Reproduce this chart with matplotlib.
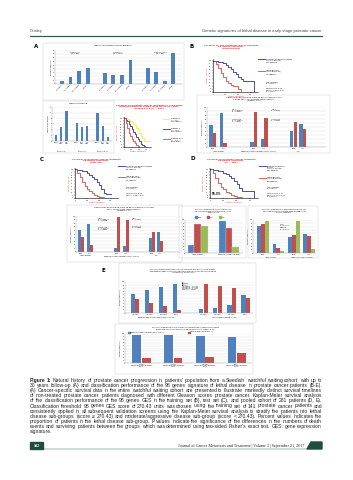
import numpy as np
import matplotlib
matplotlib.use('Agg')
import matplotlib.pyplot as plt
from matplotlib.patches import Rectangle, Polygon
from matplotlib.lines import Line2D

W, H = 353, 480
BLUE, RED, GREEN = '#4f81bd', '#c0504d', '#9bbb59'
KM_BLUE, KM_RED, KM_YEL = '#2e3192', '#e8403a', '#f5f032'
T_RED = '#e8262b'
DARK = '#1f4e3d'
TINY = 1.5

# ---------------- data ----------------
# A (top): deaths of prostate cancer patients by Gleason group
a_groups = ['Gleason 6\n(n = 85)', 'Gleason 7\n(n = 112)', 'Gleason 8-10\n(n = 84)']
a_periods = ['0-5 years', '5-10 years', '10-15 years', 'Overall']
a_deaths = [[8, 18, 35, 42], [28, 24, 24, 64], [42, 32, 8, 83]]

# A (bottom left): median follow-up
a_fu_labels = ['Deaths', '0-10\nyears', '>10\nyears']
a_fu = [[2.0, 5.0, 10.5], [6.2, 5.0, 5.2], [9.8, 5.4, 1.4]]

# A (bottom right): KM by Gleason
km_a = {
    'g6': ([0, 20, 40, 60, 80, 100, 120, 140, 160, 180, 200, 220, 240, 260, 380],
           [100, 99, 97, 95, 92, 88, 82, 76, 68, 60, 50, 40, 30, 20, 20]),
    'g7': ([0, 20, 40, 60, 80, 100, 120, 140, 160, 180, 200, 220, 240, 260, 280],
           [100, 96, 90, 82, 72, 62, 52, 44, 36, 28, 20, 12, 6, 2, 0]),
    'g8': ([0, 20, 40, 60, 80, 100, 120, 140, 160, 180, 200],
           [100, 84, 66, 50, 38, 28, 20, 14, 8, 4, 0]),
}

# B-D: KM curves, moderate/aggressive (blue) vs lethal (red)
km_b = {
    'mod': ([0, 20, 40, 60, 80, 100, 120, 140, 160, 180, 200, 220, 240, 280, 300, 330],
            [100, 99, 97, 95, 91, 86, 80, 72, 64, 56, 48, 40, 36, 36, 36, 0]),
    'let': ([0, 20, 40, 60, 80, 100, 120, 140, 160, 180, 200, 220],
            [100, 90, 76, 62, 48, 36, 28, 22, 20, 18, 8, 4]),
}
km_c = {
    'mod': ([0, 20, 40, 60, 80, 100, 120, 140, 160, 180, 200, 220, 240, 260, 300],
            [100, 99, 97, 96, 93, 88, 82, 75, 66, 56, 44, 30, 18, 15, 15]),
    'let': ([0, 20, 40, 60, 80, 100, 120, 140, 160, 180, 200, 240],
            [100, 88, 72, 56, 42, 32, 24, 18, 12, 8, 5, 5]),
}
km_d = {
    'mod': ([0, 20, 40, 60, 80, 100, 120, 140, 160, 180, 200, 220, 240, 260, 300, 330],
            [100, 99, 97, 95, 93, 89, 84, 78, 70, 60, 48, 36, 26, 24, 24, 0]),
    'let': ([0, 20, 40, 60, 80, 100, 120, 140, 160, 180, 200, 240],
            [100, 86, 70, 54, 40, 30, 22, 16, 10, 6, 4, 4]),
}

# B / C: classification performance (percent), blue = moderate, red = lethal
bc_labels = ['Dead', 'Alive', 'Dead', 'Alive', 'Dead', 'Alive']
bc_groups = ['Lethal disease', 'Moderate/aggressive disease (score < 270.43)', 'Total']
b_blue = [55, 84, 12, 20, 40, 57]
b_red = [36, 10, 87, 72, 62, 45]
c_blue = [60, 78, 10, 18, 38, 55]
c_red = [42, 20, 98, 88, 55, 30]

# D: training / test / pooled
d1_groups = ['Lethal disease', 'Moderate/aggressive disease']
d1_blue, d1_red, d1_green = [25, 97], [87, 75], [82, 17]
d2_labels = ['Dead', 'Alive', 'Dead', 'Alive']
d2_groups = ['Lethal disease', 'Moderate/aggressive disease']
d2_blue, d2_red, d2_green = [81, 26, 49, 58], [89, 16, 56, 53], [98, 7, 98, 11]

# E
e_years = ['10 years', '15 years', '20 years', 'Overall'] * 2
e_blue = [61, 75, 84, 95, 13, 16, 26, 58]
e_red = [44, 32, 21, 10, 92, 87, 81, 47]
e2_labels = ['5 years', '10 years', '15 years', 'Overall']
e2_blue = [95, 95, 92, 88]
e2_red = [16, 16, 19, 35]

caption = ("Figure 1: Natural history of prostate cancer progression in patients' population from a Swedish watchful waiting cohort with up to\n"
           "30 years follow-up (A) and classification performance of the 98 genes signature of lethal disease in prostate cancer patients (B-E).\n"
           "(A) Cancer-specific survival data in the entire watchful waiting cohort are presented to illustrate markedly distinct survival timelines\n"
           "of non-treated prostate cancer patients diagnosed with different Gleason scores prostate cancer. Kaplan-Meier survival analysis\n"
           "of the classification performance of the 98 genes GES in the training set (B), test set (C), and pooled cohort of 281 patients (D, E).\n"
           "Classification threshold 98 genes GES score of 270.43 units was chosen using the training set of 141 prostate cancer patients and\n"
           "consistently applied in all subsequent validation screens using the Kaplan-Meier survival analysis to stratify the patients into lethal\n"
           "disease sub-groups (score \u2265 270.43) and moderate/aggressive disease sub-group (score < 270.43). Percent values indicates the\n"
           "proportion of patients in the lethal disease sub-group. P values indicate the significance of the differences in the numbers of death\n"
           "events and surviving patients between the groups which was determined using two-sided Fisher's exact test. GES: gene expression\n"
           "signature.")

# ---------------- helpers ----------------
fig = plt.figure(figsize=(W / 100, H / 100), dpi=100)
fig.patch.set_facecolor('white')


def box(x0, y0, x1, y1):
    return [x0 / W, 1 - y1 / H, (x1 - x0) / W, (y1 - y0) / H]


def txt(x, y, s, **kw):
    kw.setdefault('fontsize', TINY)
    return fig.text(x / W, 1 - y / H, s, **kw)


def frame(x0, y0, x1, y1):
    fig.patches.append(Rectangle((x0 / W, 1 - y1 / H), (x1 - x0) / W, (y1 - y0) / H,
                                 transform=fig.transFigure, fill=False, ec='#c8c8c8', lw=0.3))


def bar_axes(rect, ylim, step, ylabel=None):
    ax = fig.add_axes(box(*rect))
    ax.set_ylim(*ylim)
    ax.set_yticks(np.arange(ylim[0], ylim[1] + 0.01, step))
    ax.tick_params(axis='both', labelsize=1.2, length=0, pad=0.4)
    ax.grid(axis='y', color='#d4d4d4', lw=0.25)
    ax.set_axisbelow(True)
    for s in ['top', 'right']:
        ax.spines[s].set_visible(False)
    for s in ['left', 'bottom']:
        ax.spines[s].set_color('#9a9a9a')
        ax.spines[s].set_linewidth(0.3)
    if ylabel:
        ax.set_ylabel(ylabel, fontsize=1.4, labelpad=0.6)
    return ax


def km_axes(rect, curves, colors):
    ax = fig.add_axes(box(*rect))
    for key, c in colors.items():
        t, s = curves[key]
        ax.step(t, s, where='post', color=c, lw=0.6)
    ax.set_xlim(0, 360)
    ax.set_ylim(0, 105)
    ax.set_xticks([0, 100, 200, 300])
    ax.set_yticks(range(0, 101, 10))
    ax.tick_params(labelsize=1.2, length=0.8, width=0.3, pad=0.4)
    for s in ['top', 'right']:
        ax.spines[s].set_visible(False)
    for s in ['left', 'bottom']:
        ax.spines[s].set_linewidth(0.4)
    ax.set_ylabel('Percent survival', fontsize=1.4, color=T_RED, labelpad=0.6)
    ax.set_xlabel('Time, months', fontsize=1.6, color=T_RED, labelpad=0.5)
    return ax


def km_legend(x, y, entries):
    for color, label, dy in entries:
        if color:
            fig.add_artist(Line2D([x / W, (x + 7) / W], [1 - (y + dy + 1) / H] * 2,
                                  color=color, lw=0.6, transform=fig.transFigure))
        txt(x + 8, y + dy, label, va='top', fontsize=1.3, linespacing=1.1)


def label(x, y, s):
    txt(x, y, s, fontsize=4, fontweight='bold', va='center', ha='center')


# ---------------- header ----------------
txt(30, 32, 'Grisley', fontsize=3, family='Liberation Sans', color='#444444', va='baseline')
txt(322, 32, 'Genetic signatures of lethal disease in early stage prostate cancer', fontsize=3,
    family='Liberation Sans', color='#444444', va='baseline', ha='right')
fig.add_artist(Line2D([30 / W, 322 / W], [1 - 35.8 / H] * 2, color='#3a5a55', lw=0.9,
                      transform=fig.transFigure))

# ---------------- panel A ----------------
label(36, 47, 'A')
frame(43, 43, 184, 100)
txt(113, 45.5, 'Death of prostate cancer patients', ha='center', va='center', fontsize=1.6)
ax = bar_axes((55, 50, 182, 84), (0, 90), 10, 'Percent patients')
pos, ticks = [], []
for g, (name, vals) in enumerate(zip(a_groups, a_deaths)):
    x = np.arange(4) + g * 5
    ax.bar(x, vals, width=0.45, color=BLUE)
    pos.extend(x)
    ticks.extend(a_periods)
    ax.text(x[1] + 0.5, 86, name, ha='center', va='top', fontsize=1.4, linespacing=1.0)
ax.set_xlim(-0.8, 14)
ax.set_xticks(pos)
ax.set_xticklabels(ticks, rotation=45, ha='right', rotation_mode='anchor')

frame(43, 101, 114, 153)
txt(78, 104, 'Median follow-up', ha='center', va='center', fontsize=1.5)
ax = bar_axes((52, 107, 112, 141), (0, 12), 2, 'Years of follow-up')
pos = []
for g, vals in enumerate(a_fu):
    x = np.arange(3) + g * 4
    ax.bar(x, vals, width=0.45, color=BLUE)
    pos.extend(x)
    ax.text(x[1], -3.6, ['Gleason 6', 'Gleason 7', 'Gleason 8-10'][g], ha='center', va='top',
            fontsize=1.2)
ax.set_xlim(-0.8, 10.8)
ax.set_xticks(pos)
ax.set_xticklabels(a_fu_labels * 3, fontsize=1.1, linespacing=1.0)

txt(149, 106.5, 'Survival of prostate cancer patients in a Swedish\nwatchful waiting cohort with up to 30 years\nof follow-up (n = 281)',
    ha='center', va='center', color=T_RED, fontsize=1.7, fontweight='bold', linespacing=1.05)
km_axes((124, 117, 151, 147), km_a, {'g6': KM_YEL, 'g7': KM_BLUE, 'g8': KM_RED})
km_legend(163, 118, [(KM_YEL, 'Gleason 6\n(n = 85)\n31% deaths', 0),
                     (KM_BLUE, 'Gleason 7\n(n = 112)\n55% deaths', 10),
                     (KM_RED, 'Gleason 8-10\n(n = 84)\n83% deaths', 20)])

# ---------------- panel B ----------------
label(192, 46, 'B')
txt(231, 47, 'Survival of 141 prostate cancer patients\n98 genes classifier\n(training set)',
    ha='center', va='center', color=T_RED, fontsize=1.7, fontweight='bold', linespacing=1.05)
km_axes((213, 59, 258, 92), km_b, {'mod': KM_BLUE, 'let': KM_RED})
km_legend(258, 58, [(KM_BLUE, 'Moderate/aggressive disease\n(score < 270.43)\n100 patients', 0),
                    (KM_RED, 'Lethal disease\n(score \u2265 270.43)\n41 patients', 12),
                    (None, 'Log-rank test\nP < 0.0001', 24),
                    (None, 'Hazard ratio: 3.93\n95% CI: 2.41 to 6.41\nP < 0.0001', 30)])

txt(254, 99, 'Classification performance of the 98 genes classifier in the\ntraining set of 141 prostate cancer patients\n(Gleason 6-10)',
    ha='center', va='center', fontsize=1.4, linespacing=1.05)
frame(197, 95, 330, 153)
bc_pos = [0, 1, 3.9, 4.9, 7.7, 8.6]


def bc_chart(rect, blue, red):
    ax = bar_axes(rect, (0, 100), 10, 'Percent patients')
    x = np.array(bc_pos)
    ax.bar(x - 0.17, blue, width=0.32, color=BLUE)
    ax.bar(x + 0.17, red, width=0.32, color=RED)
    ax.set_xlim(-0.55, 10.8)
    ax.set_xticks(x)
    ax.set_xticklabels(bc_labels, fontsize=1.1)
    for gx, gname in zip([0.5, 4.4, 8.15], bc_groups):
        ax.text(gx, -9, gname, ha='center', va='top', fontsize=1.1)
    return ax


ax = bc_chart((207, 107, 326, 147), b_blue, b_red)
ax.text(1.8, 96, 'Lethal\nP = 3.92E-08\nP = 0.0001', fontsize=1.2, va='top', linespacing=1.0)
ax.text(1.8, 70, 'All patients\nP = 1.44E-09\nP = 0.0007', fontsize=1.2, va='top', linespacing=1.0)
ax.text(5.6, 96, 'Lethal\nP = 0.0005', fontsize=1.2, va='top', linespacing=1.0)
ax.text(5.6, 70, 'All patients\nP = 0.0002', fontsize=1.2, va='top', linespacing=1.0)

# ---------------- panel C ----------------
label(42, 160, 'C')
txt(96, 161, 'Survival of prostate cancer patients\n98 genes classifier\n(test set)',
    ha='center', va='center', color=T_RED, fontsize=1.7, fontweight='bold', linespacing=1.05)
km_axes((75, 168, 118, 198), km_c, {'mod': KM_BLUE, 'let': KM_RED})
km_legend(118, 165, [(KM_BLUE, 'Moderate/aggressive disease\n(score < 270.43)\n95 patients', 0),
                     (KM_RED, 'Lethal disease\n(score \u2265 270.43)\n45 patients', 11),
                     (None, 'Log-rank test\nP < 0.0001', 22),
                     (None, 'Hazard ratio: 3.35\n95% CI: 2.09 to 5.37', 28)])
frame(67, 205, 182, 262)
txt(124, 209, 'Classification performance of the 98 genes classifier in the test\nset of 140 prostate cancer patients\n(Gleason 6-10)',
    ha='center', va='center', fontsize=1.4, linespacing=1.05)
ax = bc_chart((76, 216, 180, 252), c_blue, c_red)
ax.text(1.8, 96, 'Lethal\nP = 2.09E-06\nP = 0.0008', fontsize=1.2, va='top', linespacing=1.0)
ax.text(1.8, 70, 'All patients\nP = 1.04E-07\nP = 0.0002', fontsize=1.2, va='top', linespacing=1.0)
ax.text(5.6, 96, 'Lethal\nP = 0.0011', fontsize=1.2, va='top', linespacing=1.0)
ax.text(5.6, 72, 'All patients\nP = 0.0005', fontsize=1.2, va='top', linespacing=1.0)

# ---------------- panel D ----------------
label(193, 159, 'D')
txt(231, 161, 'Survival of prostate cancer patients\n98 genes classifier\n(n = 281)',
    ha='center', va='center', color=T_RED, fontsize=1.7, fontweight='bold', linespacing=1.05)
ax = km_axes((210, 168, 258, 198), km_d, {'mod': KM_BLUE, 'let': KM_RED})
ax.text(15, 12, '55.3%', fontsize=2, fontweight='bold')
km_legend(259, 165, [(KM_BLUE, 'Moderate/aggressive\ndisease\n(score < 270.43)\n195 patients', 0),
                     (KM_RED, 'Lethal disease\n(score \u2265 270.43)\n86 patients', 12),
                     (None, 'Log-rank test\nP < 0.0001', 22),
                     (None, 'Hazard ratio: 3.73\n95% CI: 2.71 to 5.14\nP < 0.0001', 28)])

frame(179, 206, 246, 258)
txt(213, 211, 'Proportion of patients with the lethal disease\nsignature among patients with death events\nand survivors',
    ha='center', va='center', fontsize=1.2, linespacing=1.05)
for i, (c, n) in enumerate([(BLUE, 'Dead'), (RED, 'Alive'), (GREEN, 'Total')]):
    fig.patches.append(Rectangle(((195 + i * 12) / W, 1 - 218 / H), 1.5 / W, 1.5 / H,
                                 transform=fig.transFigure, color=c))
    txt(197.5 + i * 12, 217.3, n, va='center', fontsize=1.1)
ax = bar_axes((185, 220, 243, 253), (0, 100), 10)
x = np.arange(2)
ax.bar(x - 0.21, d1_blue, width=0.21, color=BLUE, ec='#dddddd', lw=0.2)
ax.bar(x, d1_red, width=0.21, color=RED, ec='#dddddd', lw=0.2)
ax.bar(x + 0.21, d1_green, width=0.21, color=GREEN, ec='#dddddd', lw=0.2)
ax.set_xlim(-0.4, 1.44)
ax.set_xticks(x)
ax.set_xticklabels(d1_groups, fontsize=1.1)

frame(248, 206, 318, 258)
txt(284, 211, 'Proportion of patients with death events and survivors\namong patients with lethal and moderate/aggressive\ndisease signatures',
    ha='center', va='center', fontsize=1.2, linespacing=1.05)
ax = bar_axes((253, 220, 316, 253), (0, 100), 10, 'Percent patients')
x = np.arange(4)
ax.bar(x - 0.25, d2_blue, width=0.25, color=BLUE)
ax.bar(x, d2_red, width=0.25, color=RED)
ax.bar(x + 0.25, d2_green, width=0.25, color=GREEN)
ax.set_xlim(-0.65, 3.44)
ax.set_xticks(x)
ax.set_xticklabels(d2_labels, fontsize=1.1)
ax.text(1.1, 88, 'Lethal\nP < 0.0001\n\nModerate\nP < 0.0001', fontsize=1.1, va='top', linespacing=1.0)
for gx, gname in zip([0.5, 2.5], d2_groups):
    ax.text(gx, -10, gname, ha='center', va='top', fontsize=1.1)

# ---------------- panel E ----------------
label(103, 270, 'E')
frame(119, 263, 256, 323)
txt(183, 271, 'Proportion of death events and survivors among patients with the lethal disease\nand moderate/aggressive disease signatures at different time points of follow-up\n(281 patients, Gleason 6-10)',
    ha='center', va='center', fontsize=1.2, linespacing=1.05)
ax = bar_axes((125, 282, 253, 313), (0, 100), 10, 'Percent patients')
x = np.array([0, 1, 2, 3, 4.9, 5.9, 6.9, 7.9])
ax.bar(x - 0.15, e_blue, width=0.29, color=BLUE)
ax.bar(x + 0.15, e_red, width=0.29, color=RED)
ax.set_xlim(-0.71, 8.43)
ax.set_xticks(x)
ax.set_xticklabels(e_years, fontsize=1.1)
ax.text(1.5, -12, 'Moderate/aggressive disease (GES < 270.43)', ha='center', va='top', fontsize=1.2)
ax.text(6.4, -12, 'Lethal disease (GES \u2265 270.43)', ha='center', va='top', fontsize=1.2)
ax.text(3.35, 98, '\u25a0 Dead\n\u25a0 Alive\n10 years P = 4.5E-09\n15 years P = 2.6E-10\n20 years P = 1.1E-11\nOverall P = 0.0001',
        fontsize=1.1, va='top', linespacing=1.0)

frame(115, 324, 253, 374)
txt(185, 328, 'Proportion of patients with the lethal disease signature among patients with death\nevents at different time points of follow-up (281 patients, Gleason 6-10)',
    ha='center', va='center', fontsize=1.2, linespacing=1.05)
fig.patches.append(Rectangle((128 / W, 1 - 333 / H), 1.5 / W, 1.5 / H, transform=fig.transFigure, color=BLUE))
txt(130.5, 332.2, 'Moderate/aggressive disease (GES < 270.43)', va='center', fontsize=1.1)
fig.patches.append(Rectangle((188 / W, 1 - 333 / H), 1.5 / W, 1.5 / H, transform=fig.transFigure, color=RED))
txt(190.5, 332.2, 'Lethal disease (GES \u2265 270.43)', va='center', fontsize=1.1)
ax = bar_axes((125, 334, 252, 363), (0, 100), 10, 'Percent patients')
x = np.arange(4)
ax.bar(x - 0.15, e2_blue, width=0.28, color=BLUE)
ax.bar(x + 0.15, e2_red, width=0.28, color=RED)
ax.set_xlim(-0.52, 3.48)
ax.set_xticks(x)
ax.set_xticklabels([s + '\nPercent of patients with death\nevents' for s in e2_labels],
                   fontsize=1.0, linespacing=1.0)

# ---------------- caption (justified) ----------------
renderer = fig.canvas.get_renderer()
x_left, x_right, y0, dy = 30, 322, 382, 5.1
lines = caption.split('\n')
cap_fs = 3.0
for _ in range(2):
    probe = txt(0, 0, lines[0], fontsize=cap_fs, family='Liberation Sans')
    wfull = probe.get_window_extent(renderer).width
    probe.remove()
    cap_fs *= (x_right - x_left - 1) / wfull

for i, line in enumerate(lines):
    words = line.split(' ')
    arts = []
    for j, w in enumerate(words):
        bold = i == 0 and j < 2
        arts.append(txt(0, 0, w, fontsize=cap_fs, family='Liberation Sans',
                        fontweight='bold' if bold else 'normal', va='baseline', color='#222222'))
    widths = [a.get_window_extent(renderer).width for a in arts]
    if i < len(lines) - 1 and len(words) > 1:
        gap = (x_right - x_left - sum(widths)) / (len(words) - 1)
    else:
        gap = cap_fs * 0.38
    xx = x_left
    for a, wdt in zip(arts, widths):
        a.set_position((xx / W, 1 - (y0 + i * dy) / H))
        xx += wdt + gap

# ---------------- footer ----------------
fig.patches.append(Rectangle((30 / W, 1 - 449 / H), 13 / W, 7 / H, transform=fig.transFigure, color=DARK))
txt(36.5, 445.8, '182', fontsize=3, color='white', fontweight='bold', family='Liberation Serif',
    ha='center', va='center')
fig.add_artist(Line2D([43 / W, 308 / W], [1 - 448.8 / H] * 2, color=DARK, lw=0.3, transform=fig.transFigure))
txt(304, 447, 'Journal of Cancer Metastasis and Treatment | Volume 3 | September 21, 2017',
    fontsize=3, family='Liberation Serif', ha='right', va='baseline', color='#222222')
fig.patches.append(Polygon([(307 / W, 1 - 449 / H), (311 / W, 1 - 442 / H), (322 / W, 1 - 442 / H),
                            (322 / W, 1 - 449 / H)], closed=True, transform=fig.transFigure, color=DARK))

fig.savefig('out.png', dpi=100, facecolor='white')
